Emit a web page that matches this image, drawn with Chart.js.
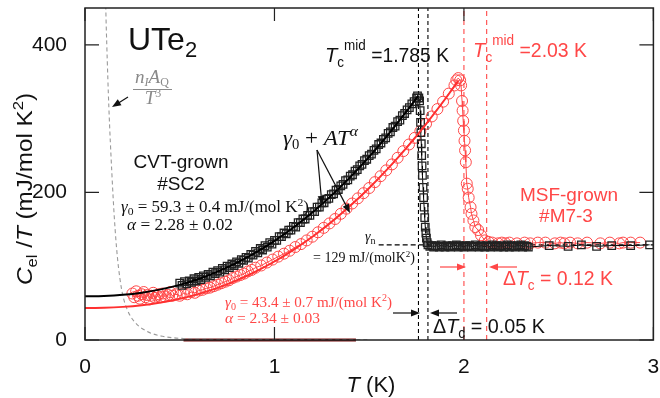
<!DOCTYPE html>
<html>
<head>
<meta charset="utf-8">
<script src="https://cdn.jsdelivr.net/npm/chart.js@4.4.1/dist/chart.umd.min.js"></script>
<style>
  html, body { margin: 0; padding: 0; background: #fff; }
  #wrap { width: 660px; height: 398px; }
</style>
</head>
<body>
<div id="wrap"><canvas id="chart" width="660" height="398"></canvas></div>
<script>
// tick values
const xTicks = [0, 1, 2, 3];
const yTicks = [0, 200, 400];

// CVT-grown #SC2 (black squares)
const cvtT = [0.500,0.512,0.525,0.537,0.550,0.562,0.575,0.587,0.600,0.612,0.625,0.637,0.650,0.662,0.675,0.687,
  0.700,0.712,0.725,0.737,0.750,0.762,0.775,0.787,0.800,0.812,0.825,0.837,0.850,0.862,0.875,0.887,
  0.900,0.912,0.925,0.937,0.950,0.962,0.975,0.987,1.000,1.012,1.025,1.037,1.050,1.062,1.075,1.087,
  1.100,1.112,1.125,1.137,1.150,1.162,1.175,1.187,1.200,1.212,1.225,1.237,1.250,1.262,1.275,1.287,
  1.300,1.312,1.325,1.337,1.350,1.362,1.375,1.387,1.400,1.412,1.425,1.437,1.450,1.462,1.475,1.487,
  1.500,1.512,1.525,1.537,1.550,1.562,1.575,1.587,1.600,1.612,1.625,1.637,1.650,1.662,1.675,1.687,
  1.700,1.712,1.725,1.737,1.750,1.755,
  1.762,1.766,1.769,1.771,1.773,1.775,1.777,1.779,1.781,1.784,1.787,1.790,1.793,1.796,1.799,1.802,1.806,1.81,
  1.82,1.83,1.84,1.85,1.86,1.87,1.88,1.89,1.90,1.91,1.92,1.93,1.94,1.95,1.96,1.97,1.98,1.99,2.00,2.01,
  2.02,2.03,2.04,2.05,2.06,2.07,2.08,2.09,2.10,2.11,2.12,2.13,2.14,2.15,2.16,2.17,2.18,2.19,2.20,2.21,
  2.22,2.23,2.24,2.25,2.26,2.27,2.28,2.29,2.30,2.31,2.32,2.33,2.34,
  2.45,2.55,2.62,2.70,2.78,2.88,2.98];
const cvtC = [77,74,79,76,80,78,83,80,85,82,87,85,89,87,92,90,
  94,92,97,95,100,98,103,101,106,104,109,108,112,111,116,115,
  120,118,124,122,128,126,132,130,135,135,140,140,145,144,149,149,
  154,153,159,159,164,164,169,169,174,174,180,180,186,186,191,192,
  197,198,203,204,209,211,216,217,222,224,229,231,236,238,243,245,
  250,252,257,259,265,267,272,274,280,282,288,290,296,298,304,307,
  312,315,320,323,328,331,
  328,324,311,295,281,266,250,236,223,207,193,180,166,153,145,138,132,129,
  127,128,126,128,127,126,129,127,126,128,127,126,128,127,129,126,128,127,126,128,
  127,128,126,127,129,127,126,128,127,126,128,127,126,129,127,128,126,127,128,126,
  127,129,126,128,127,126,128,127,129,126,128,127,126,
  128,127,129,127,128,128,129];

// MSF-grown #M7-3 (red circles)
const msfT = [0.25,0.26,0.27,0.28,0.29,0.30,0.31,0.32,0.33,0.34,0.35,0.36,0.37,0.38,0.39,0.40,0.41,0.42,
  0.44,0.45,0.46,0.48,0.50,0.52,0.54,0.56,0.58,0.60,
  0.62,0.64,0.66,0.68,0.70,0.72,0.74,0.76,0.78,0.80,0.82,0.84,0.86,0.88,0.90,
  0.93,0.96,0.99,1.02,1.05,1.08,1.11,1.14,1.17,1.20,1.23,1.26,1.29,1.32,1.35,1.38,1.41,1.44,1.47,1.50,
  1.53,1.56,1.59,1.62,1.65,1.68,1.71,1.74,1.77,1.80,1.83,1.86,1.89,1.92,1.95,1.96,1.97,1.98,
  1.985,1.99,1.993,1.996,2.0,2.003,2.006,2.01,2.015,2.02,2.025,2.035,2.04,2.05,2.06,2.075,2.09,2.11,2.13,
  2.15,2.18,2.20,2.22,2.24,2.28,2.32,2.35,2.39,2.43,2.48,2.51,2.53,2.56,2.60,2.65,2.72,2.77,2.82,2.84,2.88,2.93];
const msfC = [63,58,66,60,56,62,65,58,61,55,60,64,57,60,62,58,63,59,
  61,65,60,62,60,63,62,65,64,67,
  68,70,71,73,75,77,79,81,84,86,88,90,93,95,98,
  101,105,109,113,117,121,126,130,135,140,146,152,158,164,171,178,185,192,199,206,
  214,222,230,238,247,256,265,274,283,293,303,313,323,334,345,352,355,352,
  345,324,311,297,284,270,257,241,212,205,193,180,171,162,153,149,142,135,133,
  132,131,132,131,132,131,132,131,132,132,131,132,131,132,131,132,131,132,131,132,132,132];

// gamma0 + A T^alpha fits
const cvtFitT = [0,0.1,0.2,0.3,0.4,0.5,0.6,0.7,0.8,0.9,1.0,1.1,1.2,1.3,1.4,1.5,1.6,1.7,1.76];
const cvtFitC = [59.3,59.7,61.2,64.1,68.6,74.7,82.7,92.6,104.4,118.3,134.3,152.5,172.9,195.7,220.8,248.3,278.3,310.8,331.5];
const msfFitT = [0,0.1,0.2,0.3,0.4,0.5,0.6,0.7,0.8,0.9,1.0,1.1,1.2,1.3,1.4,1.5,1.6,1.7,1.8,1.9,1.97];
const msfFitC = [43.4,43.7,44.9,47.2,50.8,55.8,62.5,70.7,80.8,92.6,106.4,122.1,139.9,159.8,181.9,206.1,232.6,261.4,292.7,326.3,351.3];

// nuclear Schottky term n_I A_Q / T^3 (grey dashed)
const nqT = [0.105,0.110,0.115,0.126,0.142,0.155,0.170,0.185,0.200,0.225,0.260,0.325,0.410,0.520,0.700,1.0,1.5];
const nqC = [520,447,400,315,225,165,115,82,60,40,25,12,5,2,1,0.4,0.2];

// transition markers
const tcCvt = [1.76, 1.81];
const tcMsf = [2.0, 2.12];
const gammaN = 129;
const gammaNRange = [1.55, 3.0];
const redBar = [0.52, 1.43];

const SANS = '"Liberation Sans", Arial, sans-serif';
const SERIF = '"Liberation Serif", "Times New Roman", serif';
const RED = '#ff4747';
const BLACK = '#111';

function pts(xs, ys) {
  return xs.map((x, i) => ({ x: x, y: ys[i] }));
}

function vline(x, color, dash) {
  return {
    data: [{ x: x, y: 0 }, { x: x, y: 450 }],
    showLine: true, borderColor: color, borderWidth: 1.1, borderDash: dash,
    pointRadius: 0, order: 3
  };
}

// draw text made of several pieces (sub/superscripts), optionally stretched to a width
function rich(ctx, x, y, parts, opt) {
  opt = opt || {};
  let w = 0;
  parts.forEach(p => { ctx.font = p.f; p.w = ctx.measureText(p.t).width; w += p.w; });
  const sx = opt.width ? opt.width / w : 1;
  const tw = w * sx;
  const x0 = opt.align === 'center' ? x - tw / 2 : x;
  ctx.save();
  ctx.translate(x0, y);
  ctx.scale(sx, 1);
  ctx.textAlign = 'left';
  ctx.textBaseline = 'alphabetic';
  let cx = 0;
  parts.forEach(p => {
    ctx.font = p.f;
    ctx.fillStyle = opt.color || BLACK;
    ctx.fillText(p.t, cx, p.dy || 0);
    cx += p.w;
  });
  ctx.restore();
}

function arrow(ctx, x1, y1, x2, y2, color) {
  const a = Math.atan2(y2 - y1, x2 - x1);
  const L = 9, H = 3.5;
  ctx.save();
  ctx.strokeStyle = color; ctx.fillStyle = color; ctx.lineWidth = 1.2;
  ctx.beginPath();
  ctx.moveTo(x1, y1);
  ctx.lineTo(x2 - L * 0.8 * Math.cos(a), y2 - L * 0.8 * Math.sin(a));
  ctx.stroke();
  ctx.beginPath();
  ctx.moveTo(x2, y2);
  ctx.lineTo(x2 - L * Math.cos(a) + H * Math.sin(a), y2 - L * Math.sin(a) - H * Math.cos(a));
  ctx.lineTo(x2 - L * Math.cos(a) - H * Math.sin(a), y2 - L * Math.sin(a) + H * Math.cos(a));
  ctx.closePath();
  ctx.fill();
  ctx.restore();
}

const frame = {
  id: 'frame',
  afterDraw(chart) {
    const ctx = chart.ctx;
    const a = chart.chartArea;
    const xs = chart.scales.x, ys = chart.scales.y;
    ctx.save();
    ctx.strokeStyle = '#222';
    ctx.lineWidth = 1.5;
    ctx.strokeRect(a.left, a.top, a.right - a.left, a.bottom - a.top);
    ctx.lineWidth = 1.2;
    ctx.beginPath();
    xTicks.forEach(v => {
      const p = xs.getPixelForValue(v);
      ctx.moveTo(p, a.bottom); ctx.lineTo(p, a.bottom - 13);
      ctx.moveTo(p, a.top); ctx.lineTo(p, a.top + 13);
    });
    yTicks.forEach(v => {
      const p = ys.getPixelForValue(v);
      ctx.moveTo(a.left, p); ctx.lineTo(a.left + 14, p);
      ctx.moveTo(a.right, p); ctx.lineTo(a.right - 14, p);
    });
    ctx.stroke();
    ctx.restore();

    // axis titles
    rich(ctx, 371, 392, [
      { t: 'T', f: 'italic 22px ' + SANS },
      { t: ' (K)', f: '22px ' + SANS }
    ], { align: 'center' });
    ctx.save();
    ctx.translate(32, 189);
    ctx.rotate(-Math.PI / 2);
    rich(ctx, 0, 0, [
      { t: 'C', f: 'italic 22px ' + SANS },
      { t: 'el', f: '15px ' + SANS, dy: 5 },
      { t: ' /', f: '22px ' + SANS },
      { t: 'T', f: 'italic 22px ' + SANS },
      { t: ' (mJ/mol K', f: '22px ' + SANS },
      { t: '2', f: '15px ' + SANS, dy: -9 },
      { t: ')', f: '22px ' + SANS }
    ], { align: 'center', width: 192 });
    ctx.restore();

    // labels inside the plot
    rich(ctx, 128, 50, [
      { t: 'UTe', f: '32px ' + SANS },
      { t: '2', f: '22px ' + SANS, dy: 7 }
    ]);

    // n_I A_Q / T^3
    const g = '#8a8a8a';
    rich(ctx, 152, 83, [
      { t: 'n', f: 'italic 19px ' + SERIF },
      { t: 'I', f: 'italic 12px ' + SERIF, dy: 3 },
      { t: 'A', f: 'italic 19px ' + SERIF },
      { t: 'Q', f: '12px ' + SERIF, dy: 3 }
    ], { align: 'center', color: g });
    ctx.save();
    ctx.strokeStyle = g; ctx.lineWidth = 1;
    ctx.beginPath(); ctx.moveTo(133, 89.5); ctx.lineTo(172, 89.5); ctx.stroke();
    ctx.restore();
    rich(ctx, 153, 104, [
      { t: 'T', f: 'italic 19px ' + SERIF },
      { t: '3', f: '12px ' + SERIF, dy: -7 }
    ], { align: 'center', color: g });
    arrow(ctx, 128, 97, 112, 107, BLACK);

    // Tc mid labels
    rich(ctx, 325, 62, [
      { t: 'T', f: 'italic 21px ' + SANS },
      { t: 'c', f: '14px ' + SANS, dy: 5 },
      { t: 'mid', f: '14px ' + SANS, dy: -12 },
      { t: ' =1.785 K', f: '20px ' + SANS }
    ], { width: 124 });
    rich(ctx, 473, 57, [
      { t: 'T', f: 'italic 21px ' + SANS },
      { t: 'c', f: '14px ' + SANS, dy: 5 },
      { t: 'mid', f: '14px ' + SANS, dy: -12 },
      { t: ' =2.03 K', f: '20px ' + SANS }
    ], { width: 114, color: RED });

    // fit formula and arrows
    rich(ctx, 283, 145, [
      { t: 'γ', f: 'italic 22px ' + SERIF },
      { t: '0', f: '14px ' + SERIF, dy: 4 },
      { t: ' + ', f: '22px ' + SERIF },
      { t: 'AT', f: 'italic 22px ' + SERIF },
      { t: 'α', f: 'italic 15px ' + SERIF, dy: -9 }
    ], { width: 75 });
    arrow(ctx, 317, 150, 322, 205, BLACK);
    arrow(ctx, 317, 150, 350, 213, BLACK);

    // sample labels
    ctx.save();
    ctx.textAlign = 'center';
    ctx.fillStyle = BLACK;
    ctx.font = '19px ' + SANS;
    ctx.fillText('CVT-grown', 181, 168);
    ctx.fillText('#SC2', 181, 190);
    ctx.fillStyle = RED;
    ctx.fillText('MSF-grown', 569, 201);
    ctx.fillText('#M7-3', 566, 222);
    ctx.restore();

    rich(ctx, 121, 212, [
      { t: 'γ', f: 'italic 16px ' + SERIF },
      { t: '0', f: '11px ' + SERIF, dy: 3 },
      { t: ' = 59.3 ± 0.4 mJ/(mol K', f: '16px ' + SERIF },
      { t: '2', f: '11px ' + SERIF, dy: -6 },
      { t: ')', f: '16px ' + SERIF }
    ], { width: 188 });
    rich(ctx, 127, 230, [
      { t: 'α', f: 'italic 16px ' + SERIF },
      { t: ' = 2.28 ± 0.02', f: '16px ' + SERIF }
    ], { width: 106 });

    rich(ctx, 225, 307, [
      { t: 'γ', f: 'italic 15px ' + SERIF },
      { t: '0', f: '10px ' + SERIF, dy: 3 },
      { t: ' = 43.4 ± 0.7 mJ/(mol K', f: '15px ' + SERIF },
      { t: '2', f: '10px ' + SERIF, dy: -6 },
      { t: ')', f: '15px ' + SERIF }
    ], { width: 167, color: RED });
    rich(ctx, 225, 323, [
      { t: 'α', f: 'italic 15px ' + SERIF },
      { t: ' = 2.34 ± 0.03', f: '15px ' + SERIF }
    ], { width: 95, color: RED });

    // gamma_n
    rich(ctx, 365, 241, [
      { t: 'γ', f: 'italic 14px ' + SERIF },
      { t: 'n', f: '10px ' + SERIF, dy: 3 }
    ]);
    rich(ctx, 313, 262, [
      { t: '= 129 mJ/(molK', f: '14px ' + SERIF },
      { t: '2', f: '9px ' + SERIF, dy: -5 },
      { t: ')', f: '14px ' + SERIF }
    ], { width: 102 });

    // delta Tc
    arrow(ctx, 440, 267, 466, 267, RED);
    arrow(ctx, 517, 267, 489, 267, RED);
    rich(ctx, 503, 285, [
      { t: 'Δ', f: '20px ' + SANS },
      { t: 'T', f: 'italic 20px ' + SANS },
      { t: 'c', f: '14px ' + SANS, dy: 5 },
      { t: ' = 0.12 K', f: '20px ' + SANS }
    ], { width: 110, color: RED });
    arrow(ctx, 393, 313, 420, 313, BLACK);
    arrow(ctx, 457, 313, 430, 313, BLACK);
    rich(ctx, 433, 333, [
      { t: 'Δ', f: '20px ' + SANS },
      { t: 'T', f: 'italic 20px ' + SANS },
      { t: 'c', f: '14px ' + SANS, dy: 5 },
      { t: ' = 0.05 K', f: '20px ' + SANS }
    ], { width: 112 });
  }
};

new Chart(document.getElementById('chart'), {
  type: 'scatter',
  data: {
    datasets: [
      {
        data: pts(cvtFitT, cvtFitC), showLine: true, borderColor: '#000', borderWidth: 2,
        pointRadius: 0, cubicInterpolationMode: 'monotone', order: 0
      },
      {
        data: pts(msfFitT, msfFitC), showLine: true, borderColor: '#ff3030', borderWidth: 2,
        pointRadius: 0, cubicInterpolationMode: 'monotone', order: 0
      },
      {
        data: pts(cvtT, cvtC), showLine: true, borderColor: '#000', borderWidth: 1,
        pointStyle: 'rect', pointRadius: 5.3, pointBorderWidth: 1.3,
        pointBorderColor: '#222', pointBackgroundColor: 'rgba(255,255,255,0)', order: 1
      },
      {
        data: pts(msfT, msfC), showLine: true, borderColor: RED, borderWidth: 1,
        pointStyle: 'circle', pointRadius: 5.5, pointBorderWidth: 1,
        pointBorderColor: RED, pointBackgroundColor: 'rgba(255,255,255,0)', order: 2
      },
      vline(tcCvt[0], '#000', [4, 3]),
      vline(tcCvt[1], '#000', [4, 3]),
      vline(tcMsf[0], RED, [5, 4]),
      vline(tcMsf[1], RED, [5, 4]),
      {
        data: [{ x: gammaNRange[0], y: gammaN }, { x: gammaNRange[1], y: gammaN }],
        showLine: true, borderColor: '#000', borderWidth: 1.3, borderDash: [5, 3],
        pointRadius: 0, order: 3
      },
      {
        data: pts(nqT, nqC), showLine: true, borderColor: '#9a9a9a', borderWidth: 1.1,
        borderDash: [4, 3], pointRadius: 0, cubicInterpolationMode: 'monotone', order: 4
      },
      {
        data: [{ x: redBar[0], y: 0 }, { x: redBar[1], y: 0 }], showLine: true,
        borderColor: '#7a1010', borderWidth: 3, pointRadius: 0, clip: false, order: 5
      }
    ]
  },
  options: {
    responsive: false,
    animation: false,
    events: [],
    layout: { padding: { top: 8, right: 3, left: 0, bottom: 0 } },
    plugins: { legend: { display: false }, tooltip: { enabled: false } },
    scales: {
      x: {
        type: 'linear', min: 0, max: 3,
        afterBuildTicks: s => { s.ticks = xTicks.map(v => ({ value: v })); },
        afterFit: s => { s.height = 58; s.paddingLeft = 0; s.paddingRight = 0; },
        grid: { display: false }, border: { display: false },
        ticks: { padding: 7, color: BLACK, font: { family: SANS, size: 21 }, callback: v => String(v) }
      },
      y: {
        type: 'linear', min: 0, max: 450,
        afterBuildTicks: s => { s.ticks = yTicks.map(v => ({ value: v })); },
        afterFit: s => { s.width = 85; s.paddingTop = 0; s.paddingBottom = 0; },
        grid: { display: false }, border: { display: false },
        ticks: { padding: 10, color: BLACK, font: { family: SANS, size: 21 }, callback: v => String(v) }
      }
    }
  },
  plugins: [frame]
});
</script>
</body>
</html>
